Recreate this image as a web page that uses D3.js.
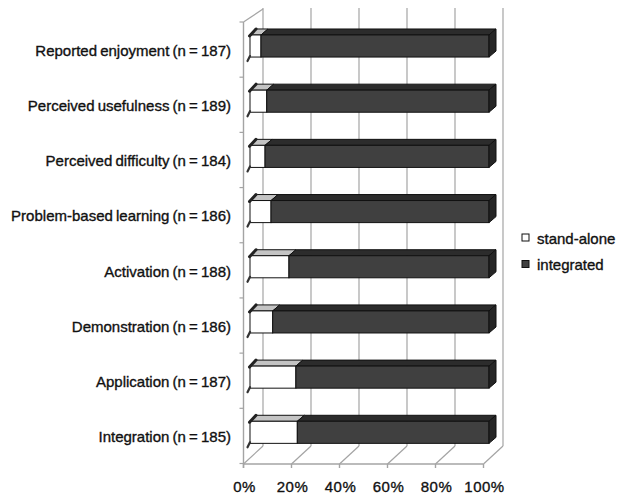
<!DOCTYPE html>
<html><head><meta charset="utf-8">
<script src="https://cdn.jsdelivr.net/npm/d3@7"></script>
<style>
html,body{margin:0;padding:0;background:#fff;}
text{font-family:"Liberation Sans",Arial,sans-serif;fill:#111;stroke:#111;stroke-width:0.35px;}
</style></head>
<body>
<svg id="chart" width="619" height="496"></svg>
<script>
const categories = ["Reported enjoyment (n = 187)", "Perceived usefulness (n = 189)", "Perceived difficulty (n = 184)", "Problem-based learning (n = 186)", "Activation (n = 188)", "Demonstration (n = 186)", "Application (n = 187)", "Integration (n = 185)"];
const standAlone = [4.6, 7.0, 6.3, 8.8, 16.3, 9.5, 19.2, 19.8];
const integrated = [95.4, 93.0, 93.7, 91.2, 83.7, 90.5, 80.8, 80.2];
const tickValues = [0, 20, 40, 60, 80, 100];
const tickLabels = ["0%", "20%", "40%", "60%", "80%", "100%"];
const seriesNames = ["stand-alone", "integrated"];

const svg = d3.select("#chart");

// scales
const y = d3.scaleBand().domain(categories).range([22, 463.5]).paddingInner(0).paddingOuter(0);
const xFront = d3.scaleLinear().domain([0, 100]).range([243.5, 483.5]);
const xBack = d3.scaleLinear().domain([0, 100]).range([263, 503]);
const xBar = d3.scaleLinear().domain([0, 100]).range([250, 489]);
const bw = y.bandwidth();
const floorFrontY = 464, floorBackY = 446, wallTopBack = 8, wallTopFront = 22;
const gridColor = "#a4a4a4";

// back wall gridlines
const g = svg.append("g");
g.selectAll("line.grid").data(tickValues).enter().append("line")
  .attr("x1", d => xBack(d)).attr("x2", d => xBack(d))
  .attr("y1", wallTopBack).attr("y2", floorBackY)
  .attr("stroke", gridColor).attr("stroke-width", 1.2);
// floor diagonals
g.selectAll("line.floor").data(tickValues).enter().append("line")
  .attr("x1", d => xFront(d)).attr("y1", floorFrontY)
  .attr("x2", d => xBack(d)).attr("y2", floorBackY)
  .attr("stroke", gridColor).attr("stroke-width", 1.2);
// floor front line
g.append("line").attr("x1", xFront(0)).attr("x2", xFront(100))
  .attr("y1", floorFrontY).attr("y2", floorFrontY)
  .attr("stroke", gridColor).attr("stroke-width", 1.4);
// floor ticks
g.selectAll("line.ft").data(tickValues).enter().append("line")
  .attr("x1", d => xFront(d)).attr("x2", d => xFront(d))
  .attr("y1", floorFrontY).attr("y2", floorFrontY + 4)
  .attr("stroke", gridColor).attr("stroke-width", 1.4);
// left wall
g.append("line").attr("x1", xFront(0)).attr("x2", xFront(0))
  .attr("y1", wallTopFront).attr("y2", floorFrontY + 4)
  .attr("stroke", gridColor).attr("stroke-width", 1.4);
g.append("line").attr("x1", xFront(0)).attr("y1", wallTopFront)
  .attr("x2", xBack(0)).attr("y2", wallTopBack + 1)
  .attr("stroke", gridColor).attr("stroke-width", 1.2);
// category ticks
const bounds = categories.map(c => y(c)).concat([y.range()[1]]);
g.selectAll("line.ct").data(bounds).enter().append("line")
  .attr("x1", xFront(0) - 4).attr("x2", xFront(0))
  .attr("y1", d => d).attr("y2", d => d)
  .attr("stroke", gridColor).attr("stroke-width", 1.2);

// bars
const dx = 7, dy = -6;
const bars = svg.append("g");
categories.forEach((c, i) => {
  const y0 = y(c) + 0.235 * bw, h = 0.4 * bw;
  const segs = [
    {a: 0, b: standAlone[i], front: "#ffffff", top: "#c4c4c4"},
    {a: standAlone[i], b: standAlone[i] + integrated[i], front: "#404040", top: "#2c2c2c"}
  ];
  segs.forEach(s => {
    const x0 = xBar(s.a), x1 = xBar(s.b);
    bars.append("polygon")
      .attr("points", [[x0, y0], [x1, y0], [x1 + dx, y0 + dy], [x0 + dx, y0 + dy]].map(p => p.join(",")).join(" "))
      .attr("fill", s.top).attr("stroke", "#111").attr("stroke-width", 1);
    bars.append("rect").attr("x", x0).attr("y", y0).attr("width", x1 - x0).attr("height", h)
      .attr("fill", s.front).attr("stroke", "#111").attr("stroke-width", 1);
  });
  const xe = xBar(standAlone[i] + integrated[i]);
  bars.append("polygon")
    .attr("points", [[xe, y0], [xe + dx, y0 + dy], [xe + dx, y0 + dy + h], [xe, y0 + h]].map(p => p.join(",")).join(" "))
    .attr("fill", "#262626").attr("stroke", "#111").attr("stroke-width", 1);
  // dark left edge shading
  const xs = xBar(0);
  bars.append("line").attr("x1", xs - 0.5).attr("y1", y0 + 1).attr("x2", xs + dx - 1).attr("y2", y0 + dy)
    .attr("stroke", "#222").attr("stroke-width", 3).attr("stroke-linecap", "round");
  bars.append("line").attr("x1", xs).attr("y1", y0 + h - 1).attr("x2", xs - 2.5).attr("y2", y0 + h + 4)
    .attr("stroke", "#333").attr("stroke-width", 2.2).attr("stroke-linecap", "round");
});

// category labels
svg.append("g").selectAll("text").data(categories).enter().append("text")
  .attr("x", 231).attr("y", d => y(d) + bw / 2 + 1).attr("dy", "0.35em")
  .attr("text-anchor", "end").attr("font-size", 15).attr("word-spacing", "-1px")
  .text(d => d);

// x tick labels
svg.append("g").selectAll("text").data(tickValues).enter().append("text")
  .attr("x", d => xFront(d) + 1).attr("y", 492)
  .attr("text-anchor", "middle").attr("font-size", 15).attr("letter-spacing", "0.5px")
  .text((d, i) => tickLabels[i]);

// legend
const legend = svg.append("g");
const legFill = ["#ffffff", "#404040"];
seriesNames.forEach((n, i) => {
  const ly = 237.5 + i * 26.5;
  legend.append("rect").attr("x", 522).attr("y", ly - 3.5).attr("width", 7).attr("height", 7)
    .attr("fill", legFill[i]).attr("stroke", "#111").attr("stroke-width", 1);
  legend.append("text").attr("x", 537).attr("y", ly + 6).attr("font-size", 15).text(n);
});
</script>
</body></html>
